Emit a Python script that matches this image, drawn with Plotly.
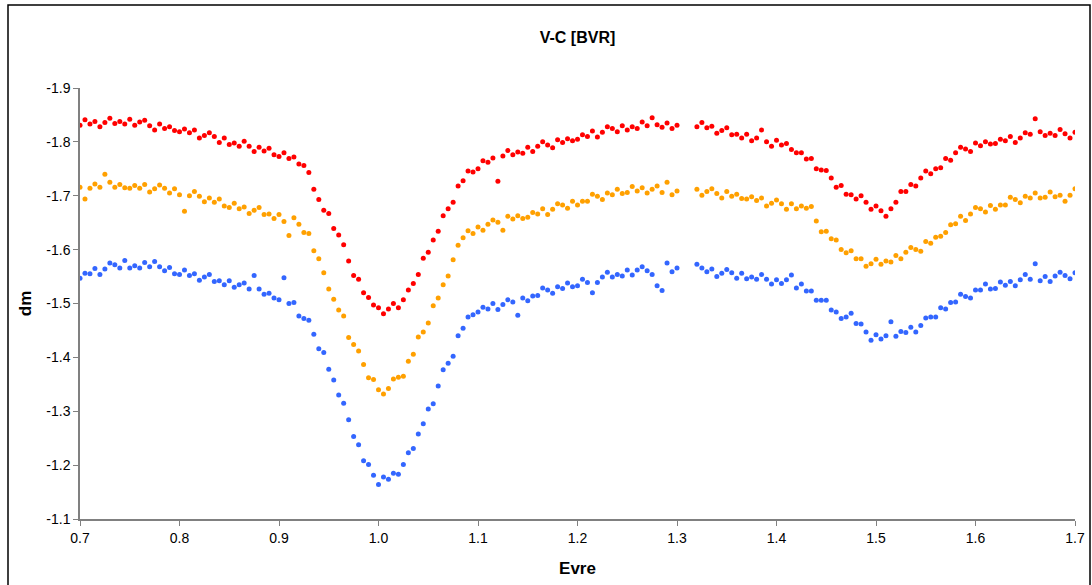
import plotly.graph_objects as go

# Phase (Evre) values shared by the three colour bands
phase = [
    0.700, 0.705, 0.710, 0.715, 0.720, 0.725, 0.730, 0.735, 0.740, 0.745,
    0.750, 0.755, 0.760, 0.765, 0.770, 0.775, 0.780, 0.785, 0.790, 0.795,
    0.800, 0.805, 0.810, 0.815, 0.820, 0.825, 0.830, 0.835, 0.840, 0.845,
    0.850, 0.855, 0.860, 0.865, 0.870, 0.875, 0.880, 0.885, 0.890, 0.895,
    0.900, 0.905, 0.910, 0.915, 0.920, 0.925, 0.930, 0.935, 0.940, 0.945,
    0.950, 0.955, 0.960, 0.965, 0.970, 0.975, 0.980, 0.985, 0.990, 0.995,
    1.000, 1.005, 1.010, 1.015, 1.020, 1.025, 1.030, 1.035, 1.040, 1.045,
    1.050, 1.055, 1.060, 1.065, 1.070, 1.075, 1.080, 1.085, 1.090, 1.095,
    1.100, 1.105, 1.110, 1.115, 1.120, 1.125, 1.130, 1.135, 1.140, 1.145,
    1.150, 1.155, 1.160, 1.165, 1.170, 1.175, 1.180, 1.185, 1.190, 1.195,
    1.200, 1.205, 1.210, 1.215, 1.220, 1.225, 1.230, 1.235, 1.240, 1.245,
    1.250, 1.255, 1.260, 1.265, 1.270, 1.275, 1.280, 1.285, 1.290, 1.295,
    1.300,
    1.320, 1.325, 1.330, 1.335, 1.340, 1.345, 1.350, 1.355, 1.360, 1.365,
    1.370, 1.375, 1.380, 1.385, 1.390, 1.395, 1.400, 1.405, 1.410, 1.415,
    1.420, 1.425, 1.430, 1.435, 1.440, 1.445, 1.450, 1.455, 1.460, 1.465,
    1.470, 1.475, 1.480, 1.485, 1.490, 1.495, 1.500, 1.505, 1.510, 1.515,
    1.520, 1.525, 1.530, 1.535, 1.540, 1.545, 1.550, 1.555, 1.560, 1.565,
    1.570, 1.575, 1.580, 1.585, 1.590, 1.595, 1.600, 1.605, 1.610, 1.615,
    1.620, 1.625, 1.630, 1.635, 1.640, 1.645, 1.650, 1.655, 1.660, 1.665,
    1.670, 1.675, 1.680, 1.685, 1.690, 1.695, 1.700,
]

dm_red = [
    -1.831, -1.841, -1.833, -1.838, -1.828, -1.836, -1.844, -1.834, -1.838, -1.833,
    -1.842, -1.831, -1.837, -1.840, -1.830, -1.822, -1.833, -1.825, -1.828, -1.821,
    -1.819, -1.824, -1.817, -1.822, -1.807, -1.812, -1.817, -1.810, -1.799, -1.807,
    -1.795, -1.798, -1.792, -1.801, -1.792, -1.782, -1.790, -1.783, -1.788, -1.776,
    -1.773, -1.780, -1.769, -1.772, -1.759, -1.756, -1.743, -1.712, -1.693, -1.673,
    -1.667, -1.639, -1.627, -1.609, -1.579, -1.552, -1.545, -1.520, -1.511, -1.497,
    -1.492, -1.481, -1.490, -1.500, -1.492, -1.507, -1.525, -1.537, -1.554, -1.584,
    -1.595, -1.618, -1.634, -1.663, -1.676, -1.688, -1.718, -1.728, -1.746, -1.744,
    -1.750, -1.765, -1.762, -1.770, -1.727, -1.774, -1.784, -1.776, -1.781, -1.779,
    -1.790, -1.782, -1.792, -1.800, -1.794, -1.789, -1.804, -1.799, -1.806, -1.802,
    -1.805, -1.813, -1.810, -1.820, -1.809, -1.818, -1.828, -1.825, -1.819, -1.830,
    -1.822, -1.828, -1.825, -1.837, -1.830, -1.845, -1.832, -1.827, -1.835, -1.825,
    -1.831,
    -1.828, -1.836, -1.826, -1.829, -1.816, -1.821, -1.826, -1.813, -1.814, -1.807,
    -1.814, -1.802, -1.807, -1.822, -1.800, -1.792, -1.803, -1.794, -1.797, -1.786,
    -1.780, -1.780, -1.768, -1.769, -1.750, -1.748, -1.747, -1.733, -1.716, -1.719,
    -1.703, -1.702, -1.694, -1.700, -1.688, -1.675, -1.681, -1.672, -1.662, -1.676,
    -1.688, -1.708, -1.708, -1.721, -1.718, -1.733, -1.746, -1.741, -1.750, -1.752,
    -1.769, -1.766, -1.780, -1.790, -1.787, -1.782, -1.798, -1.793, -1.800, -1.796,
    -1.797, -1.805, -1.802, -1.810, -1.799, -1.807, -1.817, -1.814, -1.843, -1.819,
    -1.812, -1.816, -1.812, -1.823, -1.815, -1.807, -1.818,
]

dm_orange = [
    -1.716, -1.694, -1.714, -1.722, -1.716, -1.740, -1.725, -1.716, -1.721, -1.715,
    -1.714, -1.719, -1.714, -1.721, -1.707, -1.713, -1.720, -1.714, -1.705, -1.713,
    -1.702, -1.671, -1.700, -1.708, -1.699, -1.689, -1.696, -1.688, -1.694, -1.681,
    -1.678, -1.686, -1.676, -1.679, -1.667, -1.673, -1.678, -1.665, -1.666, -1.658,
    -1.665, -1.652, -1.626, -1.659, -1.647, -1.632, -1.630, -1.598, -1.583, -1.557,
    -1.527, -1.508, -1.488, -1.477, -1.437, -1.424, -1.412, -1.387, -1.362, -1.359,
    -1.340, -1.332, -1.342, -1.360, -1.363, -1.365, -1.393, -1.406, -1.438, -1.447,
    -1.464, -1.496, -1.510, -1.535, -1.551, -1.581, -1.608, -1.622, -1.635, -1.630,
    -1.642, -1.636, -1.647, -1.655, -1.651, -1.636, -1.662, -1.657, -1.663, -1.658,
    -1.660, -1.669, -1.666, -1.676, -1.665, -1.675, -1.685, -1.683, -1.677, -1.690,
    -1.683, -1.690, -1.690, -1.703, -1.699, -1.693, -1.705, -1.702, -1.712, -1.704,
    -1.706, -1.717, -1.709, -1.715, -1.705, -1.712, -1.718, -1.706, -1.725, -1.702,
    -1.709,
    -1.712, -1.701, -1.708, -1.713, -1.704, -1.696, -1.708, -1.699, -1.703, -1.695,
    -1.694, -1.698, -1.691, -1.696, -1.681, -1.686, -1.692, -1.685, -1.675, -1.685,
    -1.676, -1.681, -1.677, -1.680, -1.653, -1.633, -1.634, -1.620, -1.618, -1.600,
    -1.594, -1.598, -1.583, -1.583, -1.569, -1.574, -1.582, -1.573, -1.579, -1.577,
    -1.589, -1.583, -1.595, -1.604, -1.600, -1.597, -1.615, -1.612, -1.623, -1.625,
    -1.632, -1.646, -1.648, -1.662, -1.654, -1.666, -1.678, -1.676, -1.670, -1.682,
    -1.675, -1.683, -1.683, -1.697, -1.693, -1.687, -1.699, -1.696, -1.705, -1.696,
    -1.697, -1.707, -1.698, -1.701, -1.690, -1.701, -1.713,
]

dm_blue = [
    -1.547, -1.556, -1.555, -1.565, -1.554, -1.564, -1.575, -1.572, -1.566, -1.580,
    -1.566, -1.570, -1.566, -1.576, -1.568, -1.578, -1.568, -1.561, -1.567, -1.555,
    -1.554, -1.562, -1.552, -1.555, -1.543, -1.549, -1.554, -1.541, -1.542, -1.535,
    -1.542, -1.530, -1.535, -1.538, -1.527, -1.552, -1.527, -1.517, -1.519, -1.510,
    -1.507, -1.548, -1.500, -1.502, -1.477, -1.472, -1.469, -1.443, -1.416, -1.409,
    -1.378, -1.358, -1.330, -1.315, -1.284, -1.253, -1.238, -1.208, -1.201, -1.181,
    -1.164, -1.178, -1.174, -1.185, -1.183, -1.201, -1.223, -1.231, -1.258, -1.277,
    -1.304, -1.314, -1.347, -1.377, -1.389, -1.402, -1.440, -1.454, -1.475, -1.479,
    -1.484, -1.493, -1.490, -1.500, -1.489, -1.498, -1.507, -1.503, -1.478, -1.510,
    -1.505, -1.514, -1.515, -1.529, -1.525, -1.519, -1.531, -1.528, -1.538, -1.531,
    -1.533, -1.545, -1.539, -1.520, -1.539, -1.549, -1.558, -1.549, -1.554, -1.551,
    -1.562, -1.553, -1.562, -1.568, -1.561, -1.554, -1.533, -1.524, -1.575, -1.559,
    -1.566,
    -1.573, -1.566, -1.559, -1.564, -1.550, -1.556, -1.563, -1.557, -1.547, -1.556,
    -1.546, -1.549, -1.545, -1.554, -1.545, -1.536, -1.544, -1.537, -1.544, -1.553,
    -1.529, -1.536, -1.523, -1.523, -1.506, -1.506, -1.506, -1.488, -1.484, -1.472,
    -1.475, -1.482, -1.463, -1.462, -1.447, -1.432, -1.442, -1.434, -1.440, -1.466,
    -1.439, -1.448, -1.446, -1.456, -1.447, -1.459, -1.473, -1.475, -1.475, -1.492,
    -1.490, -1.502, -1.503, -1.517, -1.513, -1.510, -1.525, -1.525, -1.536, -1.527,
    -1.528, -1.540, -1.534, -1.541, -1.533, -1.544, -1.554, -1.545, -1.574, -1.542,
    -1.550, -1.541, -1.551, -1.558, -1.552, -1.546, -1.557,
]

x_ticks = [0.7, 0.8, 0.9, 1.0, 1.1, 1.2, 1.3, 1.4, 1.5, 1.6, 1.7]
x_tick_text = ["0.7", "0.8", "0.9", "1.0", "1.1", "1.2", "1.3", "1.4", "1.5", "1.6", "1.7"]
y_ticks = [-1.9, -1.8, -1.7, -1.6, -1.5, -1.4, -1.3, -1.2, -1.1]
y_tick_text = ["-1.9", "-1.8", "-1.7", "-1.6", "-1.5", "-1.4", "-1.3", "-1.2", "-1.1"]

series = [
    ("R", dm_red, "#FF0000"),
    ("V", dm_orange, "#FFA000"),
    ("B", dm_blue, "#3366FF"),
]

fig = go.Figure()
for name, vals, col in series:
    fig.add_trace(go.Scatter(
        x=phase, y=vals, mode="markers", name=name,
        marker=dict(color=col, size=5, line=dict(width=0)),
        showlegend=False,
    ))

FONT = "Arial, Liberation Sans, sans-serif"
axis_font = dict(family=FONT, size=14, color="#000000")

fig.update_layout(
    width=1092, height=585, autosize=False,
    paper_bgcolor="white", plot_bgcolor="white",
    margin=dict(l=80, r=17, t=88, b=66),
    title=dict(text="<b>V-C [BVR]</b>", x=0.5, xref="paper", y=1 - 37 / 585,
               yref="container", xanchor="center", yanchor="middle",
               font=dict(family=FONT, size=16, color="#000000")),
    xaxis=dict(
        range=[0.7, 1.7], tickvals=x_ticks, ticktext=x_tick_text, automargin=False,
        showgrid=False, zeroline=False, showline=True, linecolor="#808080", linewidth=1.5,
        ticks="outside", ticklen=5, tickcolor="#808080", tickfont=axis_font,
        title=dict(text="<b>Evre</b>", standoff=18,
                   font=dict(family=FONT, size=17, color="#000000")),
    ),
    yaxis=dict(
        range=[-1.1, -1.9], tickvals=y_ticks, ticktext=y_tick_text, automargin=False,
        showgrid=False, zeroline=False, showline=True, linecolor="#808080", linewidth=1.5,
        ticks="outside", ticklen=5, tickcolor="#808080", tickfont=axis_font,
        title=dict(text="<b>dm</b>", standoff=10,
                   font=dict(family=FONT, size=17, color="#000000")),
    ),
    shapes=[dict(type="rect", xref="paper", yref="paper",
                 x0=(8 - 80) / 995, x1=(1090 - 80) / 995,
                 y0=(519 - 600) / 431, y1=(519 - 5) / 431,
                 line=dict(color="#000000", width=1.5), fillcolor="rgba(0,0,0,0)", layer="below")],
)

fig.write_html("out.html", config={"displayModeBar": False},
               post_script="document.body.style.margin='0';document.body.style.overflow='hidden';")
